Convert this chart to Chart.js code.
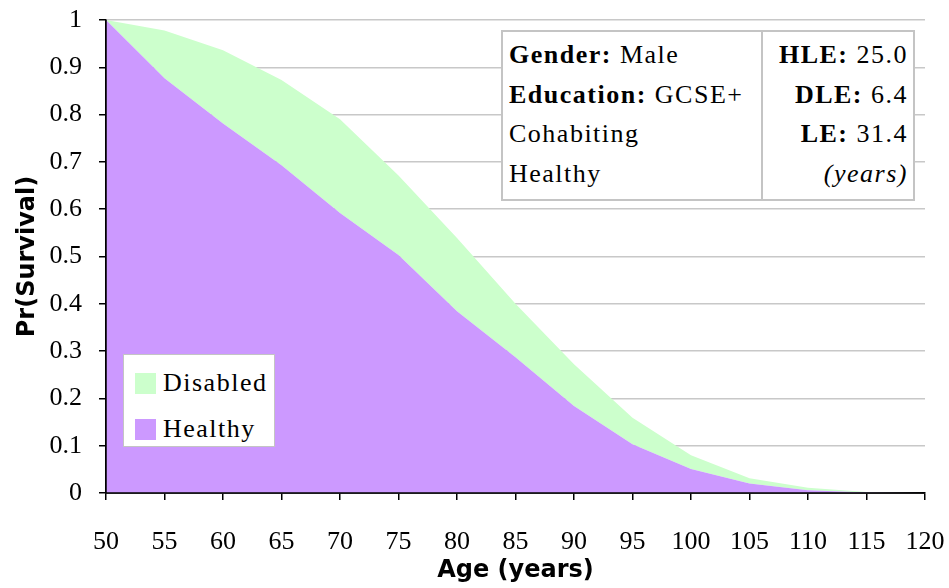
<!DOCTYPE html>
<html>
<head>
<meta charset="utf-8">
<script src="https://cdn.jsdelivr.net/npm/chart.js@4/dist/chart.umd.min.js"></script>
<style>
    body { margin: 0; background: #fff; }
    #wrap { position: relative; width: 949px; height: 588px; }
    #survivalChart { position: absolute; left: 0; top: 0; }
    .serif { font-family: "Liberation Serif", serif; letter-spacing: 1.5px; color: #000; }
    #infoBox {
        position: absolute; left: 501px; top: 30px; width: 410px; height: 167px;
        border: 2px solid #c4c4c4; background: #fff; font-size: 26px;
    }
    #infoBox .col { position: absolute; top: 0; bottom: 0; }
    #infoBox .left { left: 6px; width: 252px; }
    #infoBox .right { left: 258px; right: 0; border-left: 2px solid #c4c4c4; text-align: right; padding-right: 5px; }
    #infoBox .row { height: 39.5px; line-height: 39.5px; white-space: nowrap; }
    #infoBox .first { margin-top: 3px; }
    #legendBox {
        position: absolute; left: 123px; top: 354px; width: 150px; height: 91px;
        border: 1px solid #c4c4c4; background: #fff; font-size: 26px;
    }
    .legItem { position: absolute; left: 11px; height: 24px; line-height: 24px; white-space: nowrap; }
    .swatch { display: inline-block; width: 21px; height: 21px; vertical-align: -3px; margin-right: 7px; }
</style>
</head>
<body>
<div id="wrap">
    <canvas id="survivalChart" width="949" height="588"></canvas>
    <div id="infoBox" class="serif">
        <div class="col left">
            <div class="row first"><b>Gender:</b> Male</div>
            <div class="row"><b>Education:</b> GCSE+</div>
            <div class="row">Cohabiting</div>
            <div class="row">Healthy</div>
        </div>
        <div class="col right">
            <div class="row first"><b>HLE:</b> 25.0</div>
            <div class="row"><b>DLE:</b> 6.4</div>
            <div class="row"><b>LE:</b> 31.4</div>
            <div class="row"><i>(years)</i></div>
        </div>
    </div>
    <div id="legendBox" class="serif">
        <div class="legItem" style="top: 16px;"><span class="swatch" style="background:#ccffcc"></span>Disabled</div>
        <div class="legItem" style="top: 62px;"><span class="swatch" style="background:#cc99ff"></span>Healthy</div>
    </div>
</div>
<script>
// Ages on the x axis
const ages = [50, 55, 60, 65, 70, 75, 80, 85, 90, 95, 100, 105, 110, 115, 120];

// Probability of being alive and healthy
const healthy = [1.0, 0.877, 0.781, 0.693, 0.592, 0.503, 0.384, 0.287, 0.184, 0.103, 0.051, 0.02, 0.006, 0.001, 0];

// Probability of being alive at all (healthy + disabled), top of the green band
const survival = [1.0, 0.978, 0.936, 0.873, 0.79, 0.671, 0.539, 0.4, 0.272, 0.159, 0.08, 0.031, 0.011, 0.002, 0];

const yTicks = [0, 0.1, 0.2, 0.3, 0.4, 0.5, 0.6, 0.7, 0.8, 0.9, 1];

const purple = '#cc99ff';
const green = '#ccffcc';

// Redraw left and bottom axis lines above the filled areas
const axisLines = {
    id: 'axisLines',
    afterDatasetsDraw(chart) {
        const { ctx, chartArea } = chart;
        ctx.save();
        ctx.strokeStyle = '#000';
        ctx.lineWidth = 1.5;
        ctx.beginPath();
        ctx.moveTo(chartArea.left, chartArea.top);
        ctx.lineTo(chartArea.left, chartArea.bottom);
        ctx.lineTo(chartArea.right, chartArea.bottom);
        ctx.stroke();
        ctx.restore();
    }
};

const titleFont = { family: "'DejaVu Sans'", size: 24, weight: 'bold' };

const ctx = document.getElementById('survivalChart').getContext('2d');

new Chart(ctx, {
    type: 'line',
    data: {
        datasets: [
            {
                label: 'Healthy',
                data: ages.map((a, i) => ({ x: a, y: healthy[i] })),
                backgroundColor: purple,
                borderWidth: 0,
                pointRadius: 0,
                tension: 0,
                fill: 'origin'
            },
            {
                label: 'Disabled',
                data: ages.map((a, i) => ({ x: a, y: survival[i] })),
                backgroundColor: green,
                borderWidth: 0,
                pointRadius: 0,
                tension: 0,
                fill: '-1'
            }
        ]
    },
    options: {
        responsive: false,
        animation: false,
        layout: { padding: { top: 20, right: 24, left: 0, bottom: 0 } },
        plugins: {
            legend: { display: false },
            tooltip: { enabled: false }
        },
        scales: {
            x: {
                type: 'linear',
                min: 50,
                max: 120,
                afterFit: scale => {
                    scale.height = 95;
                    scale.paddingLeft = 0;
                    scale.paddingRight = 0;
                },
                grid: { drawOnChartArea: false, color: '#000', tickLength: 7, lineWidth: 1.5 },
                border: { color: '#000', width: 1.5 },
                ticks: {
                    stepSize: 5,
                    color: '#000',
                    padding: 27,
                    maxRotation: 0,
                    autoSkip: false,
                    font: { family: 'Liberation Serif', size: 26 }
                },
                title: {
                    display: true,
                    text: 'Age (years)',
                    color: '#000',
                    padding: { top: 0, bottom: 3 },
                    font: titleFont
                }
            },
            y: {
                min: 0,
                max: 1,
                afterFit: scale => {
                    scale.width = 106;
                    scale.paddingTop = 0;
                    scale.paddingBottom = 0;
                },
                afterBuildTicks: scale => { scale.ticks = yTicks.map(v => ({ value: v })); },
                grid: { color: '#c8c8c8', tickColor: '#000', tickLength: 7, lineWidth: 1.5 },
                border: { color: '#000', width: 1.5 },
                ticks: {
                    color: '#000',
                    padding: 17,
                    callback: v => String(+v.toFixed(1)),
                    font: { family: 'Liberation Serif', size: 26 }
                },
                title: {
                    display: true,
                    text: 'Pr(Survival)',
                    color: '#000',
                    padding: { top: 13, bottom: 0 },
                    font: titleFont
                }
            }
        }
    },
    plugins: [axisLines]
});
</script>
</body>
</html>
